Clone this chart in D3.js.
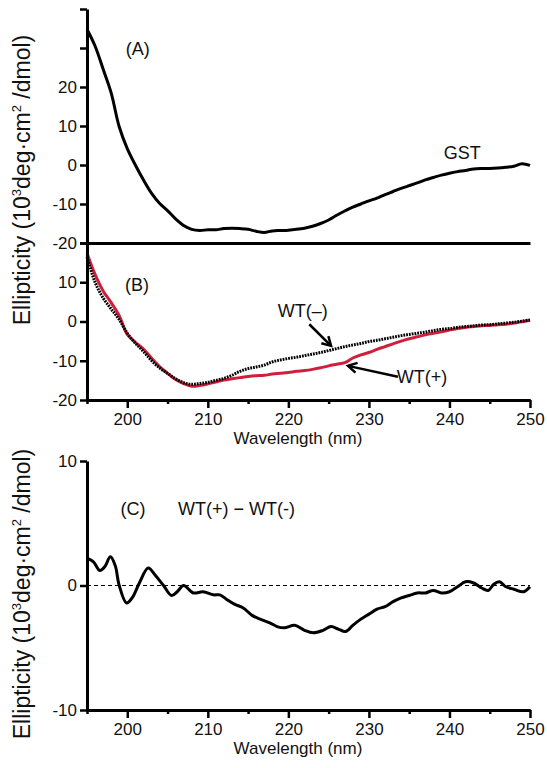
<!DOCTYPE html>
<html>
<head>
<meta charset="utf-8">
<script src="https://cdn.jsdelivr.net/npm/d3@7"></script>
<style>
  body { margin: 0; background: #fff; }
  text { font-family: "Liberation Sans", Arial, sans-serif; fill: #111; }
</style>
</head>
<body>
<script>
// wavelength grid (nm) for panels A and B
var wavelengths = d3.range(195, 251);

// (A) GST, 10^3 deg cm2 / dmol
var gstValues = [34.8, 30.5, 24.6, 18.5, 9.8, 4.2, 0.0, -3.8, -7.2, -9.8,
  -11.7, -13.8, -15.5, -16.5, -16.8, -16.6, -16.6, -16.3, -16.2, -16.3,
  -16.5, -17.0, -17.3, -16.9, -16.8, -16.7, -16.5, -16.2, -15.7, -15.0,
  -14.1, -12.9, -11.8, -10.8, -10.0, -9.2, -8.5, -7.6, -6.8, -6.0,
  -5.3, -4.6, -3.8, -3.2, -2.6, -2.1, -1.7, -1.4, -1.0, -0.9,
  -0.9, -0.8, -0.6, -0.3, 0.3, -0.1];

// (B) WT(+) red, WT(-) black dotted
var wtPlusValues = [17.4, 12.0, 7.8, 4.8, 1.5, -3.3, -5.3, -7.0, -9.3, -11.5,
  -13.2, -14.8, -15.8, -16.5, -16.3, -15.9, -15.4, -14.9, -14.6, -14.3,
  -14.0, -13.8, -13.7, -13.4, -13.2, -13.0, -12.7, -12.5, -12.2, -11.8,
  -11.3, -10.9, -10.5, -9.3, -8.5, -7.9, -7.1, -6.4, -5.7, -5.0,
  -4.4, -3.9, -3.4, -3.0, -2.6, -2.2, -1.8, -1.5, -1.3, -1.1,
  -1.0, -0.8, -0.7, -0.4, -0.1, 0.3];
var wtMinusValues = [16.5, 10.0, 6.0, 3.2, 0.5, -3.0, -5.5, -7.6, -9.9, -11.8,
  -13.2, -14.6, -15.6, -16.0, -15.8, -15.5, -15.0, -14.5, -13.7, -12.7,
  -12.0, -11.6, -11.1, -10.3, -9.8, -9.4, -9.1, -8.7, -8.3, -7.9,
  -7.4, -6.9, -6.4, -6.0, -5.6, -5.1, -4.8, -4.4, -4.0, -3.6,
  -3.3, -3.0, -2.7, -2.3, -2.0, -1.8, -1.5, -1.3, -1.1, -0.9,
  -0.8, -0.6, -0.4, -0.2, 0.1, 0.4];

// (C) WT(+) - WT(-), sampled where the trace turns
var diffWavelengths = [195, 195.8, 196.6, 197.2, 197.9, 198.5, 199.0, 199.9, 200.6, 201.5,
  202.6, 203.5, 204.5, 205.5, 206.2, 207.0, 208.2, 209.4, 210.7, 211.5,
  212.3, 213.3, 214.4, 215.5, 216.5, 217.7, 218.6, 219.5, 220.8, 222.0,
  223.1, 224.3, 225.3, 226.2, 227.1, 228.0, 229.0, 230.0, 231.0, 232.0,
  233.0, 234.0, 235.0, 236.0, 237.0, 238.0, 239.0, 240.0, 241.0, 242.0,
  243.0, 244.0, 244.8, 245.5, 246.2, 247.0, 248.0, 249.2, 250.0];
var diffValues = [2.2, 1.9, 1.2, 1.5, 2.3, 1.6, 0.0, -1.4, -1.0, 0.2,
  1.4, 0.8, 0.0, -0.8, -0.5, 0.0, -0.6, -0.5, -0.75, -0.75,
  -1.1, -1.5, -1.8, -2.4, -2.7, -3.0, -3.3, -3.4, -3.2, -3.6,
  -3.8, -3.6, -3.3, -3.5, -3.7, -3.2, -2.7, -2.3, -1.9, -1.7,
  -1.3, -1.0, -0.8, -0.6, -0.6, -0.4, -0.6, -0.5, -0.1, 0.3,
  0.2, -0.2, -0.4, 0.1, 0.3, -0.1, -0.3, -0.5, -0.1];

var majorTicks = [200, 210, 220, 230, 240, 250];
var minorTicks = [195, 205, 215, 225, 235, 245];
var ticksA = [-20, -10, 0, 10, 20, 30, 40];
var labelsA = [-20, -10, 0, 10, 20];
var ticksB = [-20, -10, 0, 10, 20];
var labelsB = [-20, -10, 0, 10];
var ticksC = [-10, 0, 10];

var svg = d3.select("body").append("svg")
    .attr("width", 547)
    .attr("height", 768);

var x = d3.scaleLinear().domain([195, 250]).range([87, 530]);
var yA = d3.scaleLinear().domain([-20, 40]).range([243, 9]);
var yB = d3.scaleLinear().domain([-20, 20]).range([400, 243]);
var yC = d3.scaleLinear().domain([-10, 10]).range([710, 461]);

function styleAxis(g) {
    g.select(".domain").attr("stroke", "#000").attr("stroke-width", 3);
    g.selectAll(".tick line").attr("stroke", "#000").attr("stroke-width", 2.5);
    g.selectAll(".tick text")
        .style("font-family", '"Liberation Sans", Arial, sans-serif')
        .style("font-size", "17px")
        .attr("fill", "#111");
}

function leftAxis(scale, ticks, labels) {
    var g = svg.append("g").attr("transform", "translate(" + x(195) + ",0)")
        .call(d3.axisLeft(scale).tickValues(ticks).tickSize(7).tickSizeOuter(0).tickPadding(3)
            .tickFormat(function(d) { return labels.indexOf(d) >= 0 ? d : ""; }));
    styleAxis(g);
}

function bottomAxis(scale) {
    var y0 = scale.range()[0];
    var gMinor = svg.append("g").attr("transform", "translate(0," + y0 + ")")
        .call(d3.axisBottom(x).tickValues(minorTicks).tickSize(4).tickSizeOuter(0).tickFormat(""));
    styleAxis(gMinor);
    var gMajor = svg.append("g").attr("transform", "translate(0," + y0 + ")")
        .call(d3.axisBottom(x).tickValues(majorTicks).tickSize(8).tickSizeOuter(0).tickPadding(5));
    styleAxis(gMajor);
    svg.append("text")
        .attr("x", 298).attr("y", y0 + 44)
        .attr("text-anchor", "middle")
        .style("font-size", "17px")
        .text("Wavelength (nm)");
}

function yLabel(cy) {
    var t = svg.append("text")
        .attr("transform", "translate(30," + cy + ") rotate(-90)")
        .attr("text-anchor", "middle")
        .style("font-size", "23px");
    t.append("tspan").text("Ellipticity  (10");
    t.append("tspan").attr("dy", -9).style("font-size", "13px").text("3");
    t.append("tspan").attr("dy", 9).text("deg\u00b7cm");
    t.append("tspan").attr("dy", -9).style("font-size", "13px").text("2");
    t.append("tspan").attr("dy", 9).text(" /dmol)");
}

function curve(ys, xs, values, color, width, dash) {
    var line = d3.line()
        .x(function(d) { return x(d[0]); })
        .y(function(d) { return ys(d[1]); })
        .curve(d3.curveCatmullRom.alpha(0.5));
    var pts = xs.map(function(w, i) { return [w, values[i]]; });
    var p = svg.append("path")
        .datum(pts)
        .attr("fill", "none")
        .attr("stroke", color)
        .attr("stroke-width", width)
        .attr("stroke-linejoin", "round")
        .attr("d", line);
    if (dash) p.attr("stroke-dasharray", dash);
}

function label(txt, wl, ys, val, anchor) {
    svg.append("text")
        .attr("x", x(wl)).attr("y", ys(val))
        .attr("text-anchor", anchor || "middle")
        .style("font-size", "18px")
        .text(txt);
}

// arrowhead
svg.append("defs").append("marker")
    .attr("id", "arrow")
    .attr("viewBox", "0 0 10 10")
    .attr("refX", 8).attr("refY", 5)
    .attr("markerWidth", 5).attr("markerHeight", 5)
    .attr("markerUnits", "strokeWidth")
    .attr("orient", "auto")
    .append("path")
    .attr("d", "M1,1 L8,5 L1,9")
    .attr("fill", "none")
    .attr("stroke", "#000")
    .attr("stroke-width", 2);

function arrow(w0, v0, w1, v1, ys) {
    svg.append("line")
        .attr("x1", x(w0)).attr("y1", ys(v0))
        .attr("x2", x(w1)).attr("y2", ys(v1))
        .attr("stroke", "#000")
        .attr("stroke-width", 2.5)
        .attr("marker-end", "url(#arrow)");
}

// ---- panel A
curve(yA, wavelengths, gstValues, "#000", 3);
leftAxis(yA, ticksA, labelsA);
svg.append("g").attr("transform", "translate(0," + yA(-20) + ")")
    .call(d3.axisBottom(x).tickValues([]).tickSizeOuter(0))
    .call(styleAxis);
label("(A)", 201.3, yA, 28.3);
label("GST", 241.6, yA, 1.5);

// ---- panel B
curve(yB, wavelengths, wtPlusValues, "#cf1f3c", 3);
curve(yB, wavelengths, wtMinusValues, "#000", 3, "1.8,1");
leftAxis(yB, ticksB, labelsB);
bottomAxis(yB);
label("(B)", 201.2, yB, 7.8);
label("WT(\u2013)", 221.8, yB, 1.2);
label("WT(+)", 236.6, yB, -15.6);
arrow(222.6, -0.7, 225.3, -6.2, yB);
arrow(233.6, -14.1, 227.4, -11.3, yB);

// ---- panel C
svg.append("line")
    .attr("x1", x(195)).attr("x2", x(250))
    .attr("y1", yC(0)).attr("y2", yC(0))
    .attr("stroke", "#000").attr("stroke-width", 1)
    .attr("stroke-dasharray", "4,3");
curve(yC, diffWavelengths, diffValues, "#000", 3);
leftAxis(yC, ticksC, ticksC);
bottomAxis(yC);
label("(C)", 200.7, yC, 5.7);
label("WT(+) \u2212 WT(-)", 206.3, yC, 5.7, "start");

yLabel(180);
yLabel(594);
</script>
</body>
</html>
